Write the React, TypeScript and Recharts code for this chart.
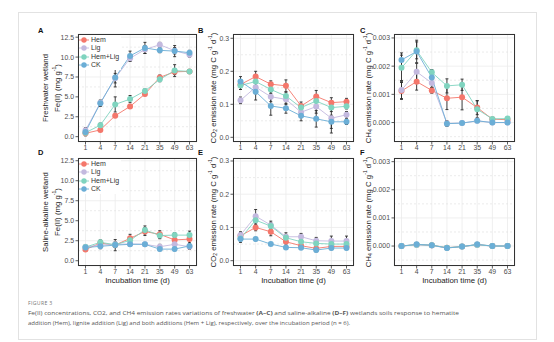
import React from 'react';
import {
  LineChart,
  Line,
  XAxis,
  YAxis,
  CartesianGrid,
  ReferenceLine,
  ErrorBar,
  Legend,
} from 'recharts';

// Incubation days (categorical axis)
const days = ['1', '4', '7', '14', '21', '35', '49', '63'];

// A: Fe(II), freshwater wetland (mg g-1)
const feFreshHem = [0.42, 0.85, 2.64, 3.8, 5.35, 7.45, 8.15, 8.2];
const feFreshHemErr = [0.2, 0.15, 0.2, 0.2, 0.2, 0.3, 0.35, 0.2];
const feFreshLig = [0.8, 4.25, 7.35, 9.85, 10.95, 11.55, 10.8, 10.3];
const feFreshLigErr = [0.3, 0.3, 0.6, 0.4, 0.5, 0.3, 0.4, 0.3];
const feFreshHemLig = [0.5, 1.45, 4.05, 4.72, 5.75, 7.2, 8.3, 8.2];
const feFreshHemLigErr = [0.2, 0.25, 0.95, 0.45, 0.25, 0.3, 0.75, 0.2];
const feFreshCk = [0.6, 4.2, 7.45, 10.15, 11.15, 10.85, 10.75, 10.55];
const feFreshCkErr = [0.5, 0.4, 1.2, 0.6, 0.7, 0.3, 0.7, 0.3];

// B: CO2 emission rate, freshwater
const co2FreshHem = [0.16, 0.184, 0.161, 0.156, 0.095, 0.124, 0.105, 0.108];
const co2FreshHemErr = [0.015, 0.016, 0.01, 0.018, 0.012, 0.018, 0.015, 0.01];
const co2FreshLig = [0.112, 0.152, 0.123, 0.115, 0.076, 0.093, 0.058, 0.068];
const co2FreshLigErr = [0.01, 0.02, 0.015, 0.015, 0.01, 0.02, 0.045, 0.01];
const co2FreshHemLig = [0.157, 0.169, 0.145, 0.125, 0.09, 0.11, 0.09, 0.094];
const co2FreshHemLigErr = [0.012, 0.015, 0.012, 0.012, 0.01, 0.015, 0.012, 0.008];
const co2FreshCk = [0.169, 0.138, 0.095, 0.088, 0.065, 0.056, 0.047, 0.047];
const co2FreshCkErr = [0.015, 0.025, 0.028, 0.015, 0.015, 0.025, 0.02, 0.008];

// C: CH4 emission rate, freshwater
const ch4FreshHem = [0.00112, 0.00145, 0.00114, 0.00086, 0.0009, 0.00053, 0.00012, 0.0001];
const ch4FreshHemErr = [0.0003, 0.0003, 0.0001, 0.0004, 0.00045, 0.00025, 0.00005, 0.00005];
const ch4FreshLig = [0.00115, 0.0018, 0.0014, -0.00003, -0.00002, 0.00006, 0.0, 0.0];
const ch4FreshLigErr = [0.0003, 0.0003, 0.00015, 0.00005, 0.00003, 0.00003, 0.00003, 0.00003];
const ch4FreshHemLig = [0.00194, 0.00256, 0.00178, 0.0013, 0.00134, 0.00047, 0.00013, 0.00014];
const ch4FreshHemLigErr = [0.00045, 0.0003, 0.0001, 0.00025, 0.0002, 0.0003, 0.00005, 0.00004];
const ch4FreshCk = [0.00222, 0.00252, 0.0016, -0.00004, -0.00002, 0.00006, 0.0, 0.0];
const ch4FreshCkErr = [0.00025, 0.0004, 0.00015, 0.0001, 0.00003, 0.00003, 0.00003, 0.00003];

// D: Fe(II), saline-alkaline wetland
const feSalHem = [1.4, 2.2, 1.95, 2.8, 3.65, 3.3, 2.6, 2.7];
const feSalHemErr = [0.2, 0.3, 0.7, 0.5, 0.5, 0.45, 0.5, 0.6];
const feSalLig = [1.75, 1.95, 2.05, 2.1, 2.05, 1.75, 2.05, 1.75];
const feSalLigErr = [0.2, 0.2, 0.3, 0.2, 0.2, 0.3, 0.25, 0.3];
const feSalHemLig = [1.7, 2.3, 2.0, 2.55, 3.85, 3.15, 3.2, 3.2];
const feSalHemLigErr = [0.2, 0.3, 0.3, 0.3, 0.5, 0.4, 0.3, 0.5];
const feSalCk = [1.65, 1.8, 1.95, 2.05, 2.05, 1.45, 1.45, 1.85];
const feSalCkErr = [0.2, 0.3, 0.3, 0.2, 0.2, 0.2, 0.2, 0.4];

// E: CO2 emission rate, saline-alkaline
const co2SalHem = [0.075, 0.1, 0.087, 0.057, 0.045, 0.037, 0.043, 0.043];
const co2SalHemErr = [0.01, 0.01, 0.012, 0.01, 0.008, 0.01, 0.008, 0.008];
const co2SalLig = [0.077, 0.134, 0.107, 0.072, 0.072, 0.06, 0.059, 0.059];
const co2SalLigErr = [0.01, 0.02, 0.012, 0.012, 0.01, 0.01, 0.015, 0.015];
const co2SalHemLig = [0.067, 0.122, 0.104, 0.069, 0.057, 0.052, 0.05, 0.05];
const co2SalHemLigErr = [0.012, 0.015, 0.01, 0.01, 0.008, 0.01, 0.01, 0.01];
const co2SalCk = [0.065, 0.065, 0.05, 0.04, 0.039, 0.032, 0.038, 0.038];
const co2SalCkErr = [0.005, 0.005, 0.004, 0.005, 0.004, 0.005, 0.005, 0.005];

// F: CH4 emission rate, saline-alkaline
const ch4SalHem = [0.0, 0.00005, 0.00003, -0.00006, -0.00002, 0.00005, 0.0, 0.0];
const ch4SalLig = [0.0, 0.00004, 0.00002, -0.00007, -0.00002, 0.00004, 0.0, 0.0];
const ch4SalHemLig = [0.0, 0.00005, 0.00003, -0.00006, -0.00002, 0.00005, 0.0, 0.0];
const ch4SalCk = [0.0, 0.00006, 0.00003, -0.00007, -0.00002, 0.00006, 0.0, 0.0];
const ch4SalErr = [0.00002, 0.00002, 0.00002, 0.00002, 0.00002, 0.00002, 0.00002, 0.00002];

const feTicks = [0, 2.5, 5, 7.5, 10, 12.5];
const feMinor = [1.25, 3.75, 6.25, 8.75, 11.25];
const co2Ticks = [0, 0.1, 0.2, 0.3];
const co2Minor = [0.05, 0.15, 0.25];
const ch4Ticks = [0, 0.001, 0.002, 0.003];
const ch4Minor = [-0.0005, 0.0005, 0.0015, 0.0025];

const SERIES = [
  { key: 'hem', name: 'Hem', color: '#F4776B' },
  { key: 'lig', name: 'Lig', color: '#C3B9DF' },
  { key: 'hemLig', name: 'Hem+Lig', color: '#7FD4BF' },
  { key: 'ck', name: 'CK', color: '#6BAED6' },
];

const FONT = '"Liberation Sans", Arial, Helvetica, sans-serif';
const L = 30;
const T = 5;
const R = 4;
const B = 16;

type Box = { x: number; y: number; w: number; h: number };

function buildRows(vals: number[][], errs: number[][]) {
  return days.map((day, i) => {
    const row: Record<string, any> = { day };
    SERIES.forEach((s, j) => {
      row[s.key] = vals[j][i];
      row[s.key + 'Err'] = errs[j][i];
    });
    return row;
  });
}

function LegendBox({ payload }: any) {
  // keep the legend in series order (recharts sorts by name otherwise)
  const items = SERIES.map((s) => (payload || []).find((p: any) => p.value === s.name)).filter(Boolean);
  return (
    <div style={{ background: '#fff', padding: '1px 2px 1px 1px', fontFamily: FONT, fontSize: 7, color: '#333' }}>
      {items.map((p: any) => (
        <div key={p.value} style={{ display: 'flex', alignItems: 'center', height: 8.4 }}>
          <svg width={10} height={8}>
            <line x1={0} x2={10} y1={4} y2={4} stroke={p.color} strokeWidth={0.9} />
            <circle cx={5} cy={4} r={2.7} fill={p.color} />
          </svg>
          <span style={{ marginLeft: 2, lineHeight: '8px' }}>{p.value}</span>
        </div>
      ))}
    </div>
  );
}

interface PanelProps {
  box: Box;
  domain: [number, number];
  ticks: number[];
  minor: number[];
  digits: number;
  vals: number[][];
  errs: number[][];
  legend?: boolean;
}

function Panel({ box, domain, ticks, minor, digits, vals, errs, legend }: PanelProps) {
  const rows = buildRows(vals, errs);
  const width = box.w + L + R;
  const height = box.h + T + B;
  const tickStyle = { fontSize: 6.9, fill: '#4d4d4d', fontFamily: FONT };
  return (
    <>
      <div style={{ position: 'absolute', left: box.x - L, top: box.y - T }}>
        <LineChart width={width} height={height} data={rows} margin={{ top: T, right: R, bottom: B - 14, left: 0 }}>
          <CartesianGrid stroke="#ebebeb" strokeWidth={0.8} />
          {minor.map((m) => (
            <ReferenceLine key={m} y={m} stroke="#e3e3e3" strokeWidth={0.7} strokeDasharray="2 2" />
          ))}
          <XAxis
            dataKey="day"
            interval={0}
            height={14}
            padding={{ left: 7.5, right: 7.5 }}
            axisLine={false}
            tickLine={{ stroke: '#333', strokeWidth: 0.8 }}
            tickSize={2.5}
            tickMargin={1}
            tick={tickStyle}
          />
          <YAxis
            type="number"
            width={L}
            domain={domain}
            ticks={ticks}
            allowDataOverflow
            axisLine={false}
            tickLine={{ stroke: '#333', strokeWidth: 0.8 }}
            tickSize={2.5}
            tickMargin={1.5}
            tick={tickStyle}
            tickFormatter={(v: number) => v.toFixed(digits)}
          />
          {SERIES.map((s) => (
            <Line
              key={s.key}
              dataKey={s.key}
              name={s.name}
              stroke={s.color}
              strokeWidth={0.9}
              dot={{ r: 3, fill: s.color, stroke: s.color, strokeWidth: 0 }}
              activeDot={false}
              isAnimationActive={false}
            />
          ))}
          {SERIES.map((s) => (
            <Line
              key={s.key + '-err'}
              dataKey={s.key}
              stroke="none"
              dot={false}
              activeDot={false}
              legendType="none"
              isAnimationActive={false}
            >
              <ErrorBar dataKey={s.key + 'Err'} direction="y" width={1.5} stroke="#2b2b2b" strokeWidth={0.9} />
            </Line>
          ))}
          {legend && (
            <Legend
              layout="vertical"
              align="center"
              verticalAlign="middle"
              content={<LegendBox />}
              wrapperStyle={{ left: L, top: T + 0.8, width: 'auto', height: 'auto' }}
            />
          )}
        </LineChart>
      </div>
      <div
        style={{
          position: 'absolute',
          left: box.x,
          top: box.y,
          width: box.w,
          height: box.h,
          border: '1px solid #333',
          boxSizing: 'border-box',
          pointerEvents: 'none',
        }}
      />
    </>
  );
}

const boxA: Box = { x: 78, y: 34, w: 119, h: 108 };
const boxB: Box = { x: 233, y: 34, w: 121, h: 108 };
const boxC: Box = { x: 394, y: 34, w: 121, h: 108 };
const boxD: Box = { x: 78, y: 158, w: 119, h: 108 };
const boxE: Box = { x: 233, y: 158, w: 121, h: 108 };
const boxF: Box = { x: 394, y: 158, w: 121, h: 108 };

function VTitle({ x, y, children, size = 7.8 }: { x: number; y: number; children: React.ReactNode; size?: number }) {
  return (
    <text
      x={x}
      y={y}
      transform={`rotate(-90 ${x} ${y})`}
      textAnchor="middle"
      dominantBaseline="central"
      fontSize={size}
      fill="#222"
      fontFamily={FONT}
    >
      {children}
    </text>
  );
}

function FeTitle({ x, y }: { x: number; y: number }) {
  return (
    <VTitle x={x} y={y}>
      <tspan>Fe(II) (mg g</tspan>
      <tspan dy={-2.6} fontSize={5}>-1</tspan>
      <tspan dy={2.6}>)</tspan>
    </VTitle>
  );
}

function RateTitle({ x, y, gas, n }: { x: number; y: number; gas: string; n: string }) {
  return (
    <VTitle x={x} y={y}>
      <tspan>{gas}</tspan>
      <tspan dy={1.8} fontSize={5}>{n}</tspan>
      <tspan dy={-1.8}> emission rate (mg C g</tspan>
      <tspan dy={-2.6} fontSize={5}>-1</tspan>
      <tspan dy={2.6}> d</tspan>
      <tspan dy={-2.6} fontSize={5}>-1</tspan>
      <tspan dy={2.6}>)</tspan>
    </VTitle>
  );
}

export default function App() {
  const row1 = boxA.y + boxA.h / 2;
  const row2 = boxD.y + boxD.h / 2;
  const letter = { fontSize: 7.5, fontWeight: 700, fill: '#111', fontFamily: FONT } as const;
  const xTitle = { fontSize: 7.8, fill: '#222', fontFamily: FONT, textAnchor: 'middle' } as const;
  const cap = { fontSize: 6, fill: '#555', fontFamily: '"Open Sans", "Noto Sans", sans-serif' } as const;
  return (
    <div style={{ position: 'relative', width: 554, height: 342, margin: '-8px 0 0 -8px', background: '#fff', overflow: 'hidden' }}>
      <svg width={554} height={342} style={{ position: 'absolute', left: 0, top: 0 }}>
        <rect x={18.5} y={12.5} width={518} height={327} fill="#fff" stroke="#e2e2e2" />
        <text x={38} y={33} {...letter}>A</text>
        <text x={198} y={33} {...letter}>B</text>
        <text x={360} y={33} {...letter}>C</text>
        <text x={38} y={155} {...letter}>D</text>
        <text x={198} y={155} {...letter}>E</text>
        <text x={360} y={155} {...letter}>F</text>

        <VTitle x={45} y={row1}>Freshwater wetland</VTitle>
        <FeTitle x={57} y={row1} />
        <RateTitle x={213} y={row1} gas="CO" n="2" />
        <RateTitle x={368} y={row1} gas="CH" n="4" />
        <VTitle x={45} y={row2}>Saline-alkaline wetland</VTitle>
        <FeTitle x={57} y={row2} />
        <RateTitle x={213} y={row2} gas="CO" n="2" />
        <RateTitle x={368} y={row2} gas="CH" n="4" />

        <text x={boxD.x + boxD.w / 2} y={283} {...xTitle}>Incubation time (d)</text>
        <text x={boxE.x + boxE.w / 2} y={283} {...xTitle}>Incubation time (d)</text>
        <text x={boxF.x + boxF.w / 2} y={283} {...xTitle}>Incubation time (d)</text>

        <text x={28} y={305} fontSize={5.2} fill="#777" fontFamily={cap.fontFamily} letterSpacing={0.3}>FIGURE 3</text>
        <text x={28} y={315} {...cap} textLength={431} lengthAdjust="spacingAndGlyphs">
          Fe(II) concentrations, CO2, and CH4 emission rates variations of freshwater <tspan fontWeight={700}>(A–C)</tspan> and saline-alkaline <tspan fontWeight={700}>(D–F)</tspan> wetlands soils response to hematite
        </text>
        <text x={28} y={324.5} {...cap} textLength={322} lengthAdjust="spacingAndGlyphs">
          addition (Hem), lignite addition (Lig) and both additions (Hem + Lig), respectively, over the incubation period (n = 6).
        </text>
      </svg>

      <Panel
        box={boxA}
        domain={[-0.67, 12.9]}
        ticks={feTicks}
        minor={feMinor}
        digits={1}
        vals={[feFreshHem, feFreshLig, feFreshHemLig, feFreshCk]}
        errs={[feFreshHemErr, feFreshLigErr, feFreshHemLigErr, feFreshCkErr]}
        legend
      />
      <Panel
        box={boxB}
        domain={[-0.0142, 0.313]}
        ticks={co2Ticks}
        minor={co2Minor}
        digits={1}
        vals={[co2FreshHem, co2FreshLig, co2FreshHemLig, co2FreshCk]}
        errs={[co2FreshHemErr, co2FreshLigErr, co2FreshHemLigErr, co2FreshCkErr]}
      />
      <Panel
        box={boxC}
        domain={[-0.00069, 0.00314]}
        ticks={ch4Ticks}
        minor={ch4Minor}
        digits={3}
        vals={[ch4FreshHem, ch4FreshLig, ch4FreshHemLig, ch4FreshCk]}
        errs={[ch4FreshHemErr, ch4FreshLigErr, ch4FreshHemLigErr, ch4FreshCkErr]}
      />
      <Panel
        box={boxD}
        domain={[-0.66, 12.84]}
        ticks={feTicks}
        minor={feMinor}
        digits={1}
        vals={[feSalHem, feSalLig, feSalHemLig, feSalCk]}
        errs={[feSalHemErr, feSalLigErr, feSalHemLigErr, feSalCkErr]}
        legend
      />
      <Panel
        box={boxE}
        domain={[-0.016, 0.309]}
        ticks={co2Ticks}
        minor={co2Minor}
        digits={1}
        vals={[co2SalHem, co2SalLig, co2SalHemLig, co2SalCk]}
        errs={[co2SalHemErr, co2SalLigErr, co2SalHemLigErr, co2SalCkErr]}
      />
      <Panel
        box={boxF}
        domain={[-0.00071, 0.00313]}
        ticks={ch4Ticks}
        minor={ch4Minor}
        digits={3}
        vals={[ch4SalHem, ch4SalLig, ch4SalHemLig, ch4SalCk]}
        errs={[ch4SalErr, ch4SalErr, ch4SalErr, ch4SalErr]}
      />
    </div>
  );
}
